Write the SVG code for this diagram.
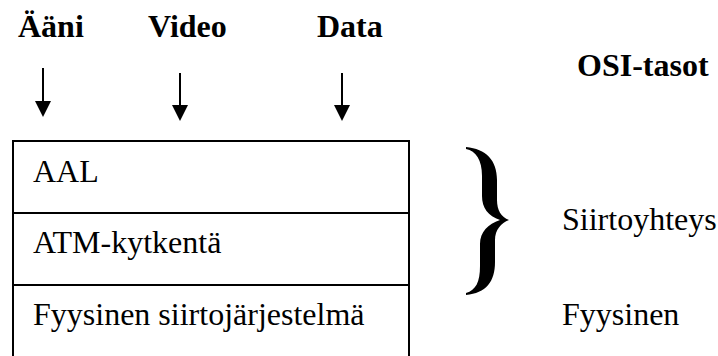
<svg xmlns="http://www.w3.org/2000/svg" width="718" height="356" viewBox="0 0 718 356">
  <style>
    .t { font-family: "Liberation Serif", "Times New Roman", serif; font-size: 32px; fill: #000; }
    .b { font-weight: bold; }
    .ln { stroke: #000; stroke-width: 2; fill: none; }
    .head { fill: #000; }
  </style>
  <rect width="718" height="356" fill="#fff"/>

  <!-- traffic types -->
  <g id="aani"><text class="t b" x="18" y="37">Ääni</text></g>
  <g id="video"><text class="t b" x="148" y="37">Video</text></g>
  <g id="data"><text class="t b" x="317" y="37">Data</text></g>
  <g id="osi-tasot"><text class="t b" x="577" y="76">OSI-tasot</text></g>

  <!-- connectors -->
  <g id="connectors">
    <path class="ln" d="M43,68 V101" />
    <path class="head" d="M35,101 L51,101 L43,117 Z"/>
    <path class="ln" d="M180,73 V105" />
    <path class="head" d="M172,105 L188,105 L180,121 Z"/>
    <path class="ln" d="M342,73 V105" />
    <path class="head" d="M334,105 L350,105 L342,121 Z"/>
  </g>

  <!-- ATM layer stack -->
  <g id="stack">
    <path class="ln" d="M13,356 V141 H409 V356" />
  </g>
  <g id="aal">
    <text class="t" x="33" y="182">AAL</text>
  </g>
  <g id="atm-kytkenta">
    <line class="ln" x1="13" y1="213" x2="409" y2="213"/>
    <text class="t" x="33" y="253">ATM-kytkentä</text>
  </g>
  <g id="fyysinen-siirtojarjestelma">
    <line class="ln" x1="13" y1="285" x2="409" y2="285"/>
    <text class="t" x="33" y="325">Fyysinen siirtojärjestelmä</text>
  </g>

  <!-- OSI layers -->
  <g id="brace">
    <path fill="#000" d="M466,147 C486,149 497,160 497,180 L497,200 C497,210 501,217 509,220 C501,223 495,230 495,240 L495,262 C495,282 486,293 466,295 L466,293 C476,290 480,282 480,266 L480,244 C480,232 488,224 500,220 C488,216 482,208 482,196 L482,176 C482,160 476,151 466,149 Z"/>
  </g>
  <g id="siirtoyhteys"><text class="t" x="562" y="230">Siirtoyhteys</text></g>
  <g id="fyysinen"><text class="t" x="562" y="325">Fyysinen</text></g>
</svg>
